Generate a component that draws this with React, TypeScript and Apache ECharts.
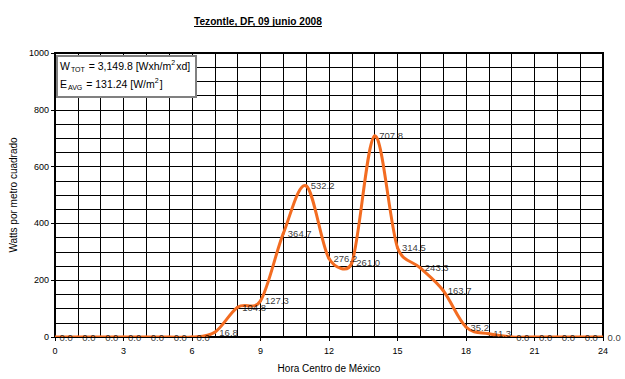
import React, { useEffect, useRef } from "react";
import * as echarts from "echarts";

const hours = [0, 1, 2, 3, 4, 5, 6, 7, 8, 9, 10, 11, 12, 13, 14, 15, 16, 17, 18, 19, 20, 21, 22, 23, 24];
const watts = [0, 0, 0, 0, 0, 0, 0, 16.8, 104.8, 127.3, 364.7, 532.2, 276.2, 261.0, 707.8, 314.5, 243.3, 163.7, 35.2, 11.3, 0, 0, 0, 0, 0];

const titleText = "Tezontle, DF, 09 junio 2008";
const xName = "Hora Centro de México";
const yName = "Watts por metro cuadrado";
const boxLine1 = "{n|W}{s|TOT}{n| = 3,149.8 [Wxh/m}{p|2}{n|xd]}";
const boxLine2 = "{n|E}{s|AVG}{n| = 131.24 [W/m}{p|2}{n|]}";

const LINE_COLOR = "#f36c21";

export default function App() {
  const ref = useRef<HTMLDivElement>(null);
  useEffect(() => {
    if (!ref.current) return;
    const chart = echarts.init(ref.current, null, { renderer: "svg" });
    const titleFont = 'bold 11px "Liberation Sans Narrow", "Arial Narrow", "Liberation Sans", sans-serif';
    let scaleX = 1;
    try {
      const c = document.createElement("canvas").getContext("2d");
      if (c) {
        c.font = titleFont;
        const w = c.measureText(titleText).width;
        if (w > 0) scaleX = 128 / w;
      }
    } catch (e) {}
    const fam = "Liberation Sans, Arial, sans-serif";
    const rich = {
      n: { fontSize: 10.5, fontFamily: fam, color: "#000", lineHeight: 14 },
      s: { fontSize: 7, fontFamily: fam, color: "#000", verticalAlign: "bottom", lineHeight: 14, padding: [0, 1, 0, 1] },
      p: { fontSize: 7, fontFamily: fam, color: "#000", verticalAlign: "top", lineHeight: 14, padding: [0, 1, 0, 0] },
    };
    const pts = hours.map((h, i) => [h, watts[i]]);
    // Excel-like smoothed segment: Bezier with control offset (next - prev)/6, capped at half the chord
    const renderSeg = (params: any, api: any) => {
      const i = params.dataIndex;
      if (i >= pts.length - 1) return null;
      const P = (j: number) => {
        const k = Math.max(0, Math.min(pts.length - 1, j));
        return api.coord(pts[k]);
      };
      const p0 = P(i - 1), p1 = P(i), p2 = P(i + 1), p3 = P(i + 2);
      const d12 = Math.hypot(p2[0] - p1[0], p2[1] - p1[1]);
      const ctrl = (a: number[], b: number[]) => {
        let dx = (b[0] - a[0]) / 6, dy = (b[1] - a[1]) / 6;
        const len = Math.hypot(dx, dy);
        const lim = d12 / 2;
        if (len > lim && len > 0) {
          dx *= lim / len;
          dy *= lim / len;
        }
        return [dx, dy];
      };
      const t1 = ctrl(p0, p2);
      const t2 = ctrl(p1, p3);
      return {
        type: "bezierCurve",
        shape: {
          x1: p1[0], y1: p1[1],
          x2: p2[0], y2: p2[1],
          cpx1: p1[0] + t1[0], cpy1: p1[1] + t1[1],
          cpx2: p2[0] - t2[0], cpy2: p2[1] - t2[1],
        },
        style: { stroke: LINE_COLOR, lineWidth: 3, fill: "none", lineCap: "round" },
      };
    };
    chart.setOption({
      animation: false,
      backgroundColor: "#fff",
      grid: { left: 55, right: 22, top: 53, bottom: 42, show: true, borderColor: "#000", borderWidth: 2 },
      graphic: [
        {
          type: "text",
          x: 194,
          y: 21,
          scaleX: scaleX,
          z: 100,
          style: { text: titleText, font: titleFont, fill: "#000", verticalAlign: "middle", align: "left" },
        },
        { type: "line", z: 100, shape: { x1: 194, y1: 26.5, x2: 322, y2: 26.5 }, style: { stroke: "#000", lineWidth: 1 } },
        {
          type: "rect",
          z: 100,
          shape: { x: 57, y: 56, width: 139, height: 41 },
          style: { fill: "#fff", stroke: "#808080", lineWidth: 2 },
        },
        { type: "text", z: 101, x: 60, y: 66, style: { text: boxLine1, rich, verticalAlign: "middle", fill: "#000" } },
        { type: "text", z: 101, x: 60, y: 84, style: { text: boxLine2, rich, verticalAlign: "middle", fill: "#000" } },
      ],
      xAxis: {
        type: "value",
        min: 0,
        max: 24,
        interval: 3,
        name: xName,
        nameLocation: "middle",
        nameGap: 26,
        nameTextStyle: { fontSize: 10, color: "#000", fontFamily: fam },
        axisLine: { show: true, onZero: false, lineStyle: { color: "#000", width: 2 } },
        axisTick: { show: true, length: 4, lineStyle: { color: "#000" } },
        axisLabel: { fontSize: 9, color: "#000", margin: 9, fontFamily: fam },
        splitLine: { show: true, lineStyle: { color: "#000", width: 1 } },
        minorTick: { show: false, splitNumber: 3 },
        minorSplitLine: { show: true, lineStyle: { color: "#000", width: 1 } },
      },
      yAxis: {
        type: "value",
        min: 0,
        max: 1000,
        interval: 200,
        name: yName,
        nameLocation: "middle",
        nameGap: 31,
        nameRotate: 90,
        nameTextStyle: { fontSize: 10, color: "#000", fontFamily: fam },
        axisLine: { show: true, lineStyle: { color: "#000", width: 2 } },
        axisTick: { show: true, length: 4, lineStyle: { color: "#000" } },
        axisLabel: { fontSize: 9, color: "#000", margin: 6, fontFamily: fam, formatter: (v: number) => String(v) },
        splitLine: { show: true, lineStyle: { color: "#000", width: 1 } },
        minorTick: { show: false, splitNumber: 4 },
        minorSplitLine: { show: true, lineStyle: { color: "#000", width: 1 } },
      },
      series: [
        {
          type: "custom",
          data: pts,
          renderItem: renderSeg,
          clip: true,
          z: 10,
        },
        {
          type: "scatter",
          data: pts,
          symbolSize: 1,
          itemStyle: { color: "rgba(0,0,0,0)" },
          label: {
            show: true,
            position: "right",
            distance: 4,
            fontSize: 9.5,
            color: "#000",
            fontFamily: fam,
            formatter: (p: any) => Number(p.value[1]).toFixed(1),
          },
          z: 20,
        },
      ],
    });
    return () => chart.dispose();
  }, []);
  return <div ref={ref} style={{ width: 625, height: 379, position: "absolute", left: 0, top: 0 }} />;
}
